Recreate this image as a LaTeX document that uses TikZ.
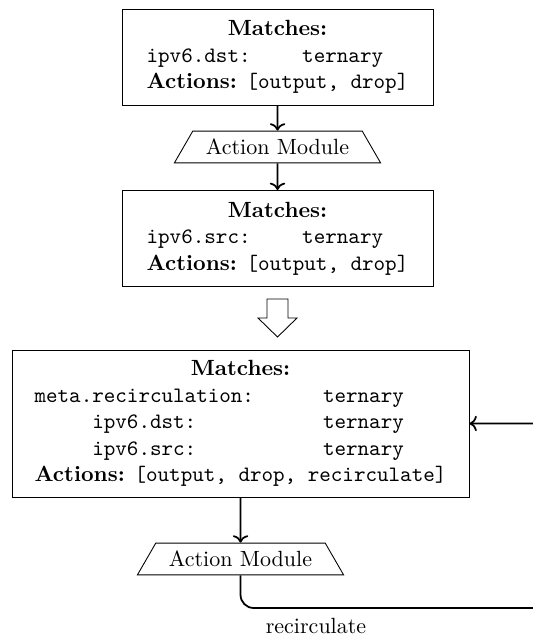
\documentclass[tikz,border=0pt]{standalone}
\usetikzlibrary{shapes.geometric,arrows.meta}
\begin{document}
\begin{tikzpicture}[x=0.4545pt, y=-0.4545pt,
  tablebox/.style={draw, rectangle, line width=0.4pt, inner sep=0pt, align=center},
  modbox/.style={draw, trapezium, trapezium angle=60, line width=0.4pt,
    inner xsep=6pt, inner ysep=3.6pt},
  conn/.style={thick, ->},
]
\useasboundingbox (0,0) rectangle (532,637);

% first table
\node[tablebox, minimum width={311*0.4545pt}, minimum height={96*0.4545pt}] (t1) at (277.5,57)
  {\begin{tabular}{cc}
   \multicolumn{2}{c}{\textbf{Matches:}}\\
   \texttt{ipv6.dst:} & \texttt{ternary}\\
   \multicolumn{2}{c}{\textbf{Actions:} \texttt{[output, drop]}}
   \end{tabular}};

\node[modbox] (m1) at (277.5,147) {Action Module};

% second table
\node[tablebox, minimum width={311*0.4545pt}, minimum height={96*0.4545pt}] (t2) at (277.5,238.5)
  {\begin{tabular}{cc}
   \multicolumn{2}{c}{\textbf{Matches:}}\\
   \texttt{ipv6.src:} & \texttt{ternary}\\
   \multicolumn{2}{c}{\textbf{Actions:} \texttt{[output, drop]}}
   \end{tabular}};

\draw[conn] (t1) -- (m1);
\draw[conn] (m1) -- (t2);

% merge arrow
\draw[line width=0.4pt] (267,299) -- (288,299) -- (288,318) -- (297,318) -- (277.5,337)
  -- (258,318) -- (267,318) -- cycle;

% merged table
\node[tablebox, minimum width={457*0.4545pt}, minimum height={147*0.4545pt}] (t3) at (240.5,423.5)
  {\begin{tabular}{cc}
   \multicolumn{2}{c}{\textbf{Matches:}}\\
   \texttt{meta.recirculation:} & \texttt{ternary}\\
   \texttt{ipv6.dst:} & \texttt{ternary}\\
   \texttt{ipv6.src:} & \texttt{ternary}\\
   \multicolumn{2}{c}{\textbf{Actions:} \texttt{[output, drop, recirculate]}}
   \end{tabular}};

\node[modbox] (m2) at (240.5,559) {Action Module};

\draw[conn] (t3) -- (m2);

% loop back, running past the right edge of the page
\coordinate (rc) at (550,608);
\draw[conn, rounded corners=6pt] (m2.south) |- (rc) |- (t3.east);
\node (rl) at (316,626) {recirculate};
\end{tikzpicture}
\end{document}
